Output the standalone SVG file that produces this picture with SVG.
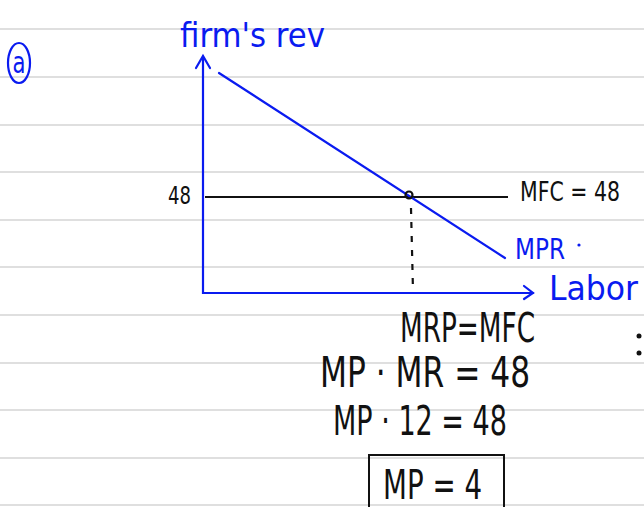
<svg xmlns="http://www.w3.org/2000/svg" width="644" height="507" viewBox="0 0 644 507">
  <style>
    .rule{stroke:#d4d4d4;stroke-width:1.6}
    .hand{font-family:"Liberation Sans Narrow","DejaVu Sans Condensed","Liberation Sans",sans-serif}
    .blue{fill:#0a1bf0}
    .black{fill:#111}
    .bl{stroke:#0a1bf0;stroke-width:2.2;fill:none;stroke-linecap:round}
    .bk{stroke:#111;stroke-width:2.2;fill:none}
  </style>
  <rect width="644" height="507" fill="#fff"/>
  <g id="rules">
    <line class="rule" x1="0" y1="29" x2="644" y2="29"/>
    <line class="rule" x1="0" y1="77" x2="644" y2="77"/>
    <line class="rule" x1="0" y1="125" x2="644" y2="125"/>
    <line class="rule" x1="0" y1="172" x2="644" y2="172"/>
    <line class="rule" x1="0" y1="220" x2="644" y2="220"/>
    <line class="rule" x1="0" y1="267" x2="644" y2="267"/>
    <line class="rule" x1="0" y1="315" x2="644" y2="315"/>
    <line class="rule" x1="0" y1="363" x2="644" y2="363"/>
    <line class="rule" x1="0" y1="410" x2="644" y2="410"/>
    <line class="rule" x1="0" y1="458" x2="644" y2="458"/>
    <line class="rule" x1="0" y1="505" x2="644" y2="505"/>
  </g>
  <g id="label-a">
    <ellipse cx="19" cy="63" rx="11" ry="20" class="bl"/>
    <text x="19" y="73" text-anchor="middle" class="hand blue" font-size="30" textLength="13" lengthAdjust="spacingAndGlyphs">a</text>
  </g>
  <g id="axes">
    <path class="bl" d="M203 57 V293 H533"/>
    <path class="bl" d="M196 68 L203 56 L210 68"/>
    <path class="bl" d="M524 286 L533 293 L524 299"/>
    <text x="180" y="47" class="hand blue" font-size="34" textLength="145" lengthAdjust="spacingAndGlyphs">firm's rev</text>
    <text x="549" y="300" class="hand blue" font-size="34" textLength="89" lengthAdjust="spacingAndGlyphs">Labor</text>
  </g>
  <g id="mfc-line">
    <line class="bk" x1="205" y1="197" x2="508" y2="197"/>
    <text x="168" y="204" class="hand black" font-size="24" textLength="23" lengthAdjust="spacingAndGlyphs">48</text>
    <text x="520" y="201" class="hand black" font-size="27" textLength="100" lengthAdjust="spacingAndGlyphs">MFC = 48</text>
  </g>
  <g id="mrp-line">
    <line class="bl" x1="219" y1="73" x2="505" y2="258"/>
    <text x="515" y="259" class="hand blue" font-size="29" textLength="50" lengthAdjust="spacingAndGlyphs">MPR</text>
    <circle cx="579" cy="245" r="1.6" fill="#0a1bf0"/>
  </g>
  <g id="equilibrium">
    <circle cx="409" cy="195" r="3.5" fill="none" stroke="#111" stroke-width="2.2"/>
    <line x1="411" y1="208" x2="413" y2="291" stroke="#111" stroke-width="2.2" stroke-dasharray="6 8"/>
  </g>
  <g id="equations">
    <text x="400" y="342" class="hand black" font-size="40" textLength="135" lengthAdjust="spacingAndGlyphs">MRP=MFC</text>
    <text x="320" y="387" class="hand black" font-size="42" textLength="210" lengthAdjust="spacingAndGlyphs">MP · MR = 48</text>
    <text x="333" y="435" class="hand black" font-size="40" textLength="174" lengthAdjust="spacingAndGlyphs">MP · 12 = 48</text>
    <circle cx="639" cy="336" r="2.5" fill="#111"/>
    <circle cx="639" cy="353" r="2.5" fill="#111"/>
  </g>
  <g id="answer">
    <path d="M369 507 V455 H504 V507" fill="none" stroke="#111" stroke-width="2"/>
    <text x="383" y="499" class="hand black" font-size="40" textLength="99" lengthAdjust="spacingAndGlyphs">MP = 4</text>
  </g>
</svg>
